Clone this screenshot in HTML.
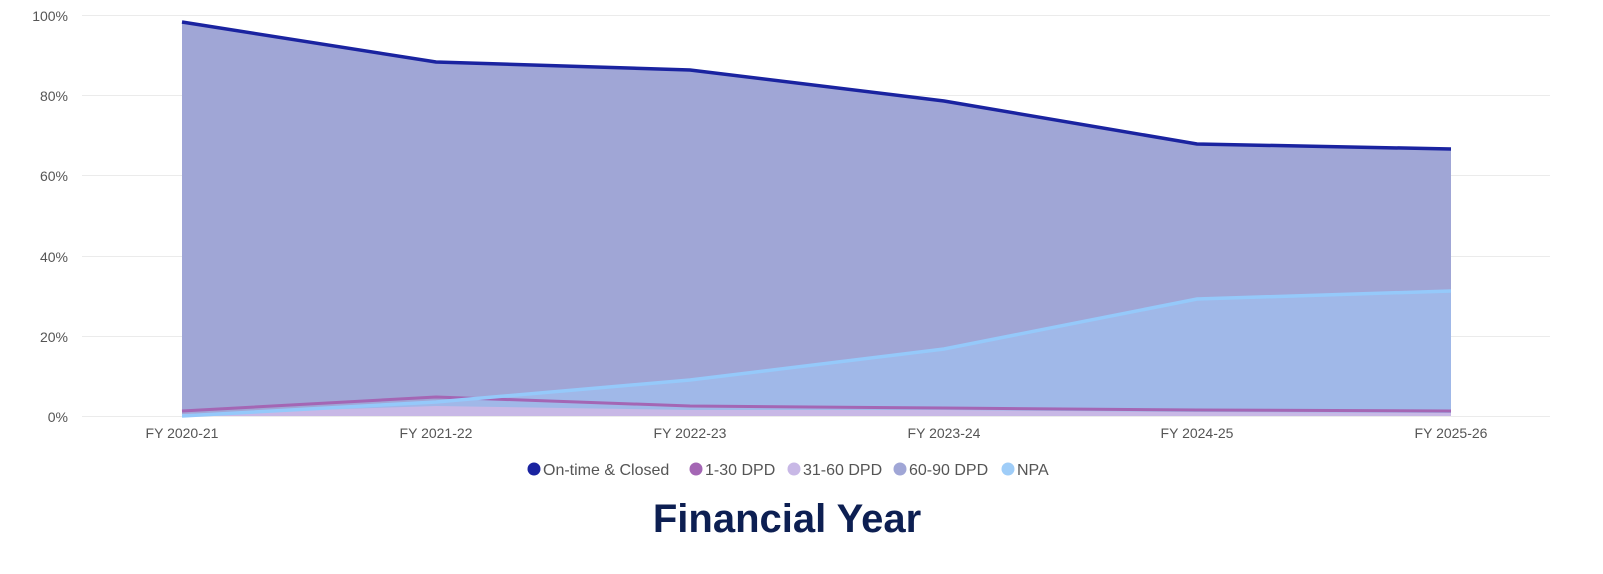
<!DOCTYPE html>
<html><head><meta charset="utf-8"><style>
body{margin:0;background:#fff;width:1603px;height:569px;overflow:hidden;font-family:"Liberation Sans",sans-serif}
</style></head><body>
<svg width="1603" height="569" xmlns="http://www.w3.org/2000/svg" font-family="Liberation Sans, sans-serif">
<g stroke="#ebebeb" stroke-width="1">
<line x1="82" x2="1550" y1="15.5" y2="15.5"/><line x1="82" x2="1550" y1="95.5" y2="95.5"/>
<line x1="82" x2="1550" y1="175.5" y2="175.5"/><line x1="82" x2="1550" y1="256.5" y2="256.5"/>
<line x1="82" x2="1550" y1="336.5" y2="336.5"/><line x1="82" x2="1550" y1="416.5" y2="416.5"/>
</g>
<g font-size="14" fill="#555" text-anchor="end">
<text x="68" y="21">100%</text><text x="68" y="101">80%</text><text x="68" y="181">60%</text>
<text x="68" y="262">40%</text><text x="68" y="342">20%</text><text x="68" y="422">0%</text>
</g>
<polygon points="182,22 436,62 690,70 944,101 1197,144 1451,149 1451,416 182,416" fill="#a0a6d6"/>
<polygon points="182,416 436,402 690,380 944,349 1197,299 1451,291 1451,416" fill="#a0b8e8"/>
<polygon points="182,414 436,406 690,410 944,410 1197,412 1451,413 1451,416 182,416" fill="#c8b8e6"/>
<polyline points="182,411 436,397 690,406 944,408 1197,410 1451,411" fill="none" stroke="#a466b4" stroke-width="3"/>
<polyline points="182,416 436,402 690,380 944,349 1197,299 1451,291" fill="none" stroke="#95c9fa" stroke-width="3.5"/>
<polyline points="182,22 436,62 690,70 944,101 1197,144 1451,149" fill="none" stroke="#1a23a0" stroke-width="3.5"/>
<g font-size="14" fill="#555" text-anchor="middle">
<text x="182" y="438">FY 2020-21</text><text x="436" y="438">FY 2021-22</text><text x="690" y="438">FY 2022-23</text>
<text x="944" y="438">FY 2023-24</text><text x="1197" y="438">FY 2024-25</text><text x="1451" y="438">FY 2025-26</text>
</g>
<g font-size="16" fill="#555">
<circle cx="534" cy="469" r="6.5" fill="#1a23a0"/><text x="543" y="475">On-time &amp; Closed</text>
<circle cx="696" cy="469" r="6.5" fill="#a466b4"/><text x="705" y="475">1-30 DPD</text>
<circle cx="794" cy="469" r="6.5" fill="#c8b8e6"/><text x="803" y="475">31-60 DPD</text>
<circle cx="900" cy="469" r="6.5" fill="#a0a6d6"/><text x="909" y="475">60-90 DPD</text>
<circle cx="1008" cy="469" r="6.5" fill="#9fcdf8"/><text x="1017" y="475">NPA</text>
</g>
<text x="787" y="532" font-size="40" font-weight="bold" fill="#0d1f52" text-anchor="middle">Financial Year</text>
</svg>
</body></html>
